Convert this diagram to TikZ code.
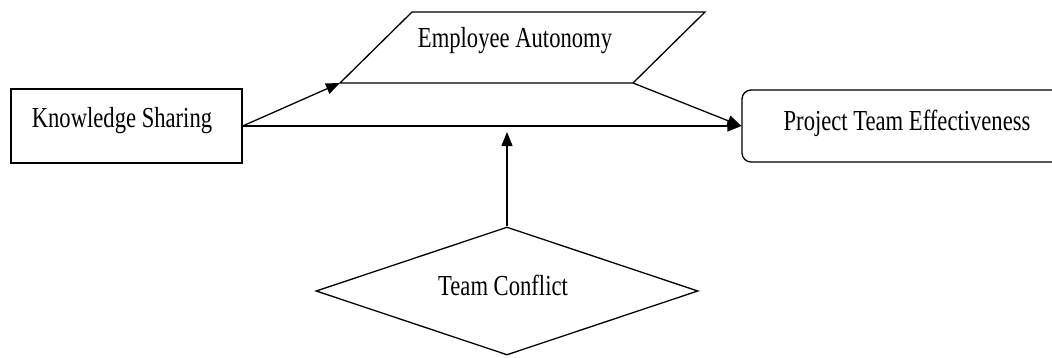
\documentclass[tikz,border=0pt]{standalone}
\usepackage{fontspec}
\setmainfont{Liberation Serif}
\usetikzlibrary{shapes.geometric,arrows.meta,calc}

% Horizontally condensed serif label text
\newcommand{\narrowlabel}[1]{\scalebox{0.78}[1]{#1}}

\begin{document}
\begin{tikzpicture}[x=1pt,y=-1pt,
  line width=1.3pt,
  boxshape/.style={draw, rectangle, inner sep=0pt},
  lbl/.style={anchor=base, inner sep=0pt, font=\rmfamily\fontsize{29}{34}\selectfont},
  conn/.style={-{Triangle[length=14pt,width=11pt]}}
]
\useasboundingbox (0,0) rectangle (1052,357);
\clip (0,0) rectangle (1052,357);

% Shapes
\node[boxshape, minimum width=231pt, minimum height=74pt] (ks) at (126.5,126) {};
\node[boxshape, rounded corners=9pt, minimum width=330pt, minimum height=72pt] (pte) at (907,126) {};
\node[draw, diamond, aspect=3, inner sep=0pt,
      minimum width=382pt, minimum height=128pt] (tc) at (507,291) {};

% Parallelogram corners
\coordinate (ea-bl) at (340,83);
\coordinate (ea-br) at (633,83);
\coordinate (ea-tr) at (705,12);
\coordinate (ea-tl) at (412,12);
\draw (ea-bl) -- (ea-br) -- (ea-tr) -- (ea-tl) -- cycle;

% Labels
\node[lbl] (ks-t)  at (122,127) {\narrowlabel{Knowledge Sharing}};
\node[lbl] (ea-t)  at (515,47)  {\narrowlabel{Employee Autonomy}};
\node[lbl] (pte-t) at (907,130) {\narrowlabel{Project Team Effectiveness}};
\node[lbl] (tc-t)  at (503,295) {\narrowlabel{Team Conflict}};

% Moderator target just below the direct path
\coordinate (mod) at ($(tc.north |- pte.west)+(0,6)$);

% Connectors
\draw[conn] (ks.east) -- (pte.west);
\draw[conn] (ks.east) -- (ea-bl);
\draw[conn] (ea-br) -- (pte.west);
\draw[conn] (tc.north) -- (mod);
\end{tikzpicture}
\end{document}
